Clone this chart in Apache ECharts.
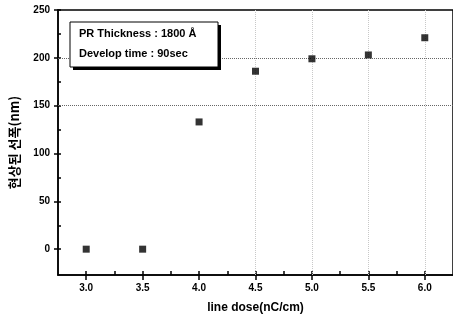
<!DOCTYPE html>
<html><head><meta charset="utf-8">
<script src="https://cdn.jsdelivr.net/npm/echarts@6/dist/echarts.min.js"></script>
<style>html,body{margin:0;padding:0;background:#fff}#c{width:453px;height:320px}</style>
</head><body><div id="c"></div>
<script>
const doses = [3.0, 3.5, 4.0, 4.5, 5.0, 5.5, 6.0];
const widths = [0, 0, 133, 186, 199, 203, 221];
const xMajorTicks = [3.0, 3.5, 4.0, 4.5, 5.0, 5.5, 6.0];
const xMinorTicks = [3.25, 3.75, 4.25, 4.75, 5.25, 5.75];
const yMajorTicks = [0, 50, 100, 150, 200, 250];
const yMinorTicks = [25, 75, 125, 175, 225];
const yGridDark = [150, 200];
const xGridLight = [4.5, 5.0, 5.5, 6.0];
const xTitle = 'line dose(nC/cm)';
const yTitle = '현상된 선폭(nm)';
const noteLines = ['PR Thickness : 1800 Å', 'Develop time : 90sec'];

const chart = echarts.init(document.getElementById('c'), null, {renderer: 'canvas'});
const gridL = 58, gridR = 0, gridT = 10, gridB = 45;
const gw = 453 - gridL - gridR, gh = 320 - gridT - gridB;
const lblFont = {fontFamily: 'Liberation Sans', fontWeight: 'bold', fontSize: 10, color: '#000'};
const axLine = {show: true, onZero: false, lineStyle: {color: '#000', width: 1.5}};
const noLine = {show: false, onZero: false};

const xCommon = {type: 'value', min: 2.75, max: 6.25, splitLine: {show: false}};
const yCommon = {type: 'value', min: -27, max: 250, splitLine: {show: false}};

chart.setOption({
  animation: false,
  grid: {left: gridL, right: gridR, top: gridT, bottom: gridB, show: true, borderColor: '#000', borderWidth: 1.5, backgroundColor: 'transparent'},
  xAxis: [
    Object.assign({}, xCommon, {
      position: 'bottom',
      axisLine: axLine,
      axisTick: {show: true, inside: false, length: 5, customValues: xMajorTicks, lineStyle: {color: '#000', width: 1.5}},
      axisLabel: Object.assign({show: true, margin: 8, customValues: xMajorTicks, formatter: v => v.toFixed(1)}, lblFont),
      name: xTitle, nameLocation: 'middle', nameGap: 27,
      nameTextStyle: {fontFamily: 'Liberation Sans', fontWeight: 'bold', fontSize: 12, color: '#000'}
    }),
    Object.assign({}, xCommon, {
      position: 'top', offset: -gh,
      axisLine: noLine,
      axisTick: {show: true, length: 4, customValues: xMajorTicks.concat(xMinorTicks), lineStyle: {color: '#000', width: 1.5}},
      axisLabel: {show: false}
    })
  ],
  yAxis: [
    Object.assign({}, yCommon, {
      position: 'left',
      axisLine: axLine,
      axisTick: {show: true, inside: false, length: 4, customValues: yMajorTicks, lineStyle: {color: '#000', width: 1.5}},
      axisLabel: Object.assign({show: true, margin: 8, customValues: yMajorTicks}, lblFont),
      name: yTitle, nameLocation: 'middle', nameGap: 37,
      nameTextStyle: {fontFamily: 'Noto Sans CJK KR', fontWeight: 'bold', fontSize: 13, color: '#000'}
    }),
    Object.assign({}, yCommon, {
      position: 'right', offset: -gw,
      axisLine: noLine,
      axisTick: {show: true, length: 3, customValues: yMajorTicks.concat(yMinorTicks), lineStyle: {color: '#000', width: 1.5}},
      axisLabel: {show: false}
    })
  ],
  graphic: [
    {type: 'rect', shape: {x: 73, y: 25, width: 148, height: 45}, style: {fill: '#000'}, z: 100},
    {type: 'rect', shape: {x: 70, y: 22, width: 148, height: 45}, style: {fill: '#fff', stroke: '#000', lineWidth: 1}, z: 101},
    {type: 'text', x: 79, y: 34, style: {text: noteLines[0], fontFamily: 'Liberation Sans', fontWeight: 'bold', fontSize: 11, fill: '#000', verticalAlign: 'middle'}, z: 102},
    {type: 'text', x: 79, y: 54, style: {text: noteLines[1], fontFamily: 'Liberation Sans', fontWeight: 'bold', fontSize: 11, fill: '#000', verticalAlign: 'middle'}, z: 102}
  ],
  series: [{
    type: 'scatter',
    z: 1,
    xAxisIndex: 0, yAxisIndex: 0,
    symbolSize: 0,
    data: [],
    markLine: {
      silent: true, symbol: ['none', 'none'], label: {show: false},
      data: yGridDark.map(v => ({yAxis: v, lineStyle: {color: '#666', type: 'dotted', width: 1}}))
        .concat(xGridLight.map(v => ({xAxis: v, lineStyle: {color: '#c8c8c8', type: 'dotted', width: 1}})))
    }
  }, {
    type: 'scatter',
    z: 5,
    xAxisIndex: 0, yAxisIndex: 0,
    symbol: 'rect', symbolSize: 7,
    itemStyle: {color: '#000'},
    data: doses.map((d, i) => [d, widths[i]])
  }]
});
</script></body></html>
